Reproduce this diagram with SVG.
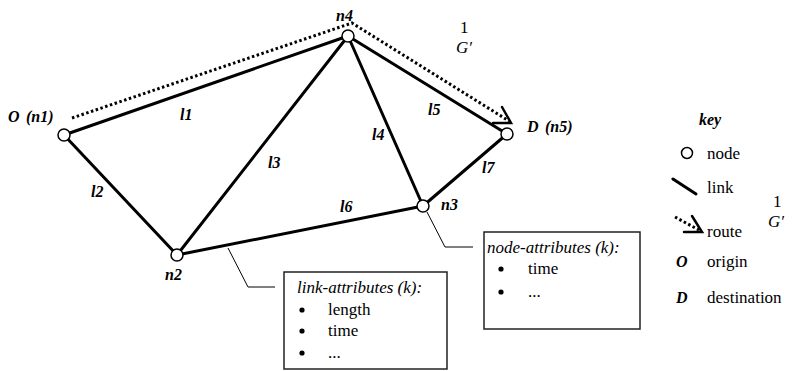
<svg xmlns="http://www.w3.org/2000/svg" width="792" height="371" viewBox="0 0 792 371">
<style>
.link{stroke:#000;stroke-width:3;fill:none;stroke-linecap:round}
.route{stroke:#000;stroke-width:3;fill:none;stroke-dasharray:2.5 2.5}
.arr{stroke:#000;stroke-width:2.5;fill:none;stroke-linecap:round;stroke-linejoin:miter}
.node{fill:#fff;stroke:#000;stroke-width:1.5}
.lbl{font-weight:bold;font-style:italic;font-size:16px;fill:#000}
.txt{font-size:17px;fill:#000}
.it{font-style:italic}
.box{fill:#fff;stroke:#222;stroke-width:1.5}
.lead{stroke:#000;stroke-width:1;fill:none}
</style>
<g font-family="Liberation Serif, Tinos, Times New Roman, Times, serif">
<g id="connectors">
<line class="link" x1="64" y1="135" x2="348" y2="36"/>
<line class="link" x1="64" y1="135" x2="177" y2="255"/>
<line class="link" x1="177" y1="255" x2="348" y2="36"/>
<line class="link" x1="348" y1="36" x2="423" y2="206"/>
<line class="link" x1="348" y1="36" x2="507" y2="134"/>
<line class="link" x1="177" y1="255" x2="423" y2="206"/>
<line class="link" x1="423" y1="206" x2="507" y2="134"/>
<polyline class="route" points="72,118 352,23 509,121"/>
<polyline class="arr" points="502,107 511,123 493,123"/>
<polyline class="lead" points="228,248 248,287 275,287"/>
<polyline class="lead" points="427,212 445,247 473,247"/>
</g>
<g id="n1"><circle class="node" cx="64" cy="135" r="6"/><text class="lbl" x="8" y="122">O</text><text class="lbl" x="26" y="122">(n1)</text></g>
<g id="n2"><circle class="node" cx="177" cy="255" r="6"/><text class="lbl" x="165" y="280">n2</text></g>
<g id="n3"><circle class="node" cx="423" cy="206" r="6"/><text class="lbl" x="441" y="210">n3</text></g>
<g id="n4"><circle class="node" cx="348" cy="36" r="6"/><text class="lbl" x="336" y="21">n4</text></g>
<g id="n5"><circle class="node" cx="507" cy="134" r="6"/><text class="lbl" x="527" y="132">D</text><text class="lbl" x="545" y="132">(n5)</text></g>
<g id="link-labels">
<text class="lbl" x="180" y="120">l1</text>
<text class="lbl" x="91" y="197">l2</text>
<text class="lbl" x="268" y="168">l3</text>
<text class="lbl" x="372" y="140">l4</text>
<text class="lbl" x="428" y="115">l5</text>
<text class="lbl" x="340" y="212">l6</text>
<text class="lbl" x="482" y="173">l7</text>
</g>
<g id="graph-label">
<text class="txt" x="460" y="33" font-size="13">1</text>
<text class="txt it" x="456" y="53" font-size="20">G′</text>
</g>
<g id="link-attributes">
<rect class="box" x="284" y="272" width="163" height="97"/>
<text class="txt it" x="297" y="293">link-attributes (k):</text>
<circle cx="302" cy="310" r="2.6"/>
<circle cx="302" cy="331" r="2.6"/>
<circle cx="302" cy="353" r="2.6"/>
<text class="txt" x="328" y="315">length</text>
<text class="txt" x="328" y="336">time</text>
<text class="txt" x="328" y="358">...</text>
</g>
<g id="node-attributes">
<rect class="box" x="484" y="232" width="156" height="97"/>
<text class="txt it" x="487" y="253">node-attributes (k):</text>
<circle cx="501" cy="269" r="2.6"/>
<circle cx="501" cy="292" r="2.6"/>
<text class="txt" x="528" y="274">time</text>
<text class="txt" x="528" y="297">...</text>
</g>
<g id="key">
<text class="lbl" x="699" y="125" font-size="18">key</text>
<circle class="node" cx="687" cy="153" r="5.5"/>
<text class="txt" x="707" y="159">node</text>
<line class="link" x1="673" y1="179" x2="696" y2="194"/>
<text class="txt" x="707" y="193">link</text>
<line class="route" x1="675" y1="217" x2="699" y2="230"/>
<polyline class="arr" points="692,216 702,232 684,232"/>
<text class="txt" x="707" y="237">route</text>
<text class="txt" x="773" y="207" font-size="13">1</text>
<text class="txt it" x="768" y="227" font-size="20">G′</text>
<text class="lbl" x="676" y="267" font-size="17">O</text>
<text class="txt" x="707" y="267">origin</text>
<text class="lbl" x="676" y="303" font-size="17">D</text>
<text class="txt" x="707" y="303">destination</text>
</g>
</g>
</svg>
